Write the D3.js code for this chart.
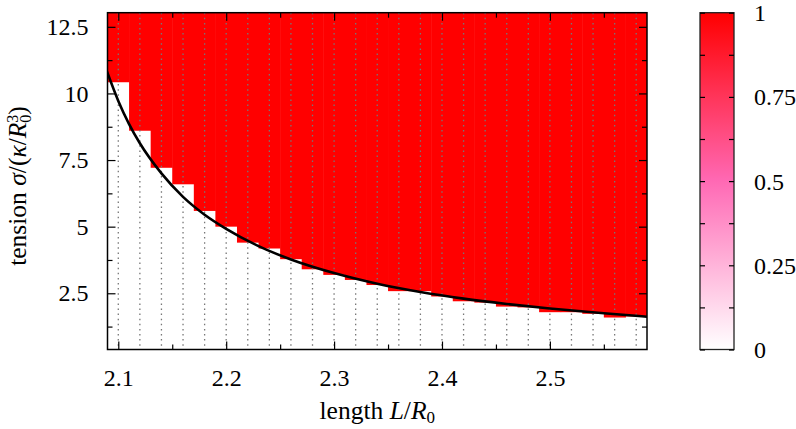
<!DOCTYPE html>
<html>
<head>
<meta charset="utf-8">
<script src="https://cdn.jsdelivr.net/npm/d3@7"></script>
<style>
  html, body { margin: 0; padding: 0; background: #fff; }
  svg text { font-family: "Liberation Serif", "DejaVu Serif", serif; fill: #000; }
</style>
</head>
<body>
<div id="myDiv"></div>
<script>
// column centres (length L/R0) and the tension where the cell turns red
var lengths = [2.10, 2.12, 2.14, 2.16, 2.18, 2.20, 2.22, 2.24, 2.26, 2.28, 2.30, 2.32, 2.34,
               2.36, 2.38, 2.40, 2.42, 2.44, 2.46, 2.48, 2.50, 2.52, 2.54, 2.56, 2.58];
var thresholds = [10.42, 8.60, 7.21, 6.59, 5.59, 5.00, 4.40, 4.18, 3.78, 3.40, 3.19, 3.00, 2.81,
                  2.58, 2.58, 2.38, 2.20, 2.15, 2.00, 1.97, 1.79, 1.79, 1.73, 1.59, 1.63];
var valueBelow = 0;   // cells under the threshold
var valueAbove = 1;   // cells over the threshold

// black boundary curve
var curveL = [2.089, 2.10, 2.11, 2.12, 2.14, 2.16, 2.18, 2.20, 2.23, 2.26,
              2.30, 2.34, 2.38, 2.42, 2.46, 2.50, 2.55, 2.59];
var curveSigma = [10.88, 9.72, 8.85, 8.13, 7.00, 6.12, 5.45, 4.92, 4.27, 3.77,
                  3.26, 2.86, 2.55, 2.30, 2.10, 1.93, 1.75, 1.62];

// tick values
var xMajor = [2.1, 2.2, 2.3, 2.4, 2.5];
var xMinor = [2.15, 2.25, 2.35, 2.45, 2.55];
var yMajor = [2.5, 5, 7.5, 10, 12.5];
var yMinor = [1.25, 3.75, 6.25, 8.75, 11.25];
var cbMajor = [0, 0.25, 0.5, 0.75, 1];
var cbMinor = [0.125, 0.375, 0.625, 0.875];

var width = 796, height = 429;
var plot = { left: 107.5, right: 647, top: 12.7, bottom: 349.5 };
var bar = { left: 700, right: 734 };
var fontSize = "24px";
var titleSize = "25.5px";

var svg = d3.select("#myDiv").append("svg")
    .attr("width", width)
    .attr("height", height);

var x = d3.scaleLinear().domain([2.09, 2.59]).range([plot.left, plot.right]);
var y = d3.scaleLinear().domain([0.39, 13.03]).range([plot.bottom, plot.top]);
var color = d3.scaleLinear().domain([0, 0.5, 1]).range(["#ffffff", "#ff69b4", "#ff0000"]);

svg.append("clipPath").attr("id", "clip")
    .append("rect")
    .attr("x", plot.left).attr("y", plot.top)
    .attr("width", plot.right - plot.left).attr("height", plot.bottom - plot.top);

var cells = svg.append("g").attr("clip-path", "url(#clip)");

// heatmap columns
var cols = lengths.map(function (L, i) { return { L: L, t: thresholds[i] }; });

cells.selectAll("rect.below")
    .data(cols)
    .enter().append("rect")
    .attr("class", "below")
    .attr("x", function (d) { return x(d.L - 0.01); })
    .attr("width", function (d) { return x(d.L + 0.01) - x(d.L - 0.01) + 0.5; })
    .attr("y", function (d) { return y(d.t); })
    .attr("height", function (d) { return y.range()[0] - y(d.t); })
    .attr("fill", color(valueBelow));

cells.selectAll("rect.above")
    .data(cols)
    .enter().append("rect")
    .attr("class", "above")
    .attr("x", function (d) { return x(d.L - 0.01); })
    .attr("width", function (d) { return x(d.L + 0.01) - x(d.L - 0.01) + 0.5; })
    .attr("y", plot.top)
    .attr("height", function (d) { return y(d.t) - plot.top; })
    .attr("fill", color(valueAbove));

// dotted grid lines at the column centres
cells.selectAll("line.grid")
    .data(lengths)
    .enter().append("line")
    .attr("class", "grid")
    .attr("x1", function (d) { return x(d); })
    .attr("x2", function (d) { return x(d); })
    .attr("y1", plot.top)
    .attr("y2", plot.bottom)
    .attr("stroke", "#777")
    .attr("stroke-width", 1.3)
    .attr("stroke-dasharray", "1.5,3.6");

// boundary curve
var line = d3.line()
    .x(function (d) { return x(d[0]); })
    .y(function (d) { return y(d[1]); })
    .curve(d3.curveMonotoneX);

cells.append("path")
    .datum(curveL.map(function (L, i) { return [L, curveSigma[i]]; }))
    .attr("d", line)
    .attr("fill", "none")
    .attr("stroke", "#000")
    .attr("stroke-width", 2.6);

// axes (ticks pointing inward on all four sides)
function styleAxis(g) {
    g.attr("font-family", null).attr("font-size", null);
    g.select(".domain").remove();
    g.selectAll(".tick line").attr("stroke", "#000").attr("stroke-width", 1.2);
    g.selectAll("text").style("font-size", fontSize).style("font-family", "'Liberation Serif', serif");
}

svg.append("g")
    .attr("transform", "translate(0," + plot.bottom + ")")
    .call(d3.axisBottom(x).tickValues(xMajor).tickSize(-8).tickPadding(19).tickFormat(d3.format(".1f")))
    .call(styleAxis);
svg.append("g")
    .attr("transform", "translate(0," + plot.bottom + ")")
    .call(d3.axisBottom(x).tickValues(xMinor).tickSize(-5).tickFormat(""))
    .call(styleAxis);
svg.append("g")
    .attr("transform", "translate(0," + plot.top + ")")
    .call(d3.axisTop(x).tickValues(xMajor).tickSize(-8).tickFormat(""))
    .call(styleAxis);
svg.append("g")
    .attr("transform", "translate(0," + plot.top + ")")
    .call(d3.axisTop(x).tickValues(xMinor).tickSize(-5).tickFormat(""))
    .call(styleAxis);

svg.append("g")
    .attr("transform", "translate(" + plot.left + ",0)")
    .call(d3.axisLeft(y).tickValues(yMajor).tickSize(-8).tickPadding(19).tickFormat(function (d) { return String(d); }))
    .call(styleAxis);
svg.append("g")
    .attr("transform", "translate(" + plot.left + ",0)")
    .call(d3.axisLeft(y).tickValues(yMinor).tickSize(-5).tickFormat(""))
    .call(styleAxis);
svg.append("g")
    .attr("transform", "translate(" + plot.right + ",0)")
    .call(d3.axisRight(y).tickValues(yMajor).tickSize(-8).tickFormat(""))
    .call(styleAxis);
svg.append("g")
    .attr("transform", "translate(" + plot.right + ",0)")
    .call(d3.axisRight(y).tickValues(yMinor).tickSize(-5).tickFormat(""))
    .call(styleAxis);

// plot border
svg.append("rect")
    .attr("x", plot.left).attr("y", plot.top)
    .attr("width", plot.right - plot.left).attr("height", plot.bottom - plot.top)
    .attr("fill", "none")
    .attr("stroke", "#000")
    .attr("stroke-width", 1.5);

// axis titles
var xt = svg.append("text")
    .attr("x", (plot.left + plot.right) / 2)
    .attr("y", 419)
    .attr("text-anchor", "middle")
    .style("font-size", titleSize);
xt.append("tspan").text("length ");
xt.append("tspan").attr("font-style", "italic").text("L");
xt.append("tspan").text("/");
xt.append("tspan").attr("font-style", "italic").text("R");
xt.append("tspan").style("font-size", "17px").attr("dy", 4).text("0");

var yt = svg.append("text")
    .attr("transform", "translate(26,186) rotate(-90)")
    .attr("text-anchor", "middle")
    .style("font-size", titleSize);
yt.append("tspan").text("tension ");
yt.append("tspan").attr("font-style", "italic").text("σ");
yt.append("tspan").text("/(");
yt.append("tspan").attr("font-style", "italic").text("κ");
yt.append("tspan").text("/");
yt.append("tspan").attr("font-style", "italic").text("R");
yt.append("tspan").style("font-size", "16px").attr("dy", -8).text("3");
yt.append("tspan").style("font-size", "16px").attr("dx", -8).attr("dy", 13).text("0");
yt.append("tspan").attr("dy", -5).text(")");

// colour bar
var cb = d3.scaleLinear().domain([0, 1]).range([plot.bottom, plot.top]);
var grad = svg.append("defs").append("linearGradient")
    .attr("id", "cbGrad")
    .attr("x1", 0).attr("y1", 1).attr("x2", 0).attr("y2", 0);
d3.range(0, 1.0001, 0.05).forEach(function (v) {
    grad.append("stop").attr("offset", v).attr("stop-color", color(v));
});

svg.append("rect")
    .attr("x", bar.left).attr("y", plot.top)
    .attr("width", bar.right - bar.left).attr("height", plot.bottom - plot.top)
    .attr("fill", "url(#cbGrad)")
    .attr("stroke", "#222")
    .attr("stroke-width", 1.3);

var cbTicks = cbMajor.concat(cbMinor);
svg.append("g")
    .attr("transform", "translate(" + bar.left + ",0)")
    .call(d3.axisLeft(cb).tickValues(cbTicks).tickSize(-5).tickFormat(""))
    .call(styleAxis);
svg.append("g")
    .attr("transform", "translate(" + bar.right + ",0)")
    .call(d3.axisRight(cb).tickValues(cbTicks).tickSize(-5).tickFormat(""))
    .call(styleAxis);

svg.selectAll("text.cblabel")
    .data(cbMajor)
    .enter().append("text")
    .attr("class", "cblabel")
    .attr("x", 754)
    .attr("y", function (d) { return cb(d); })
    .attr("dy", "0.35em")
    .style("font-size", fontSize)
    .text(function (d) { return String(d); });
</script>
</body>
</html>
